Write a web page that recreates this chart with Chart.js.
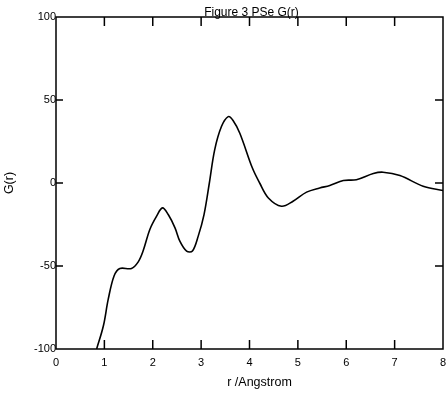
<!DOCTYPE html>
<html>
<head>
<meta charset="utf-8">
<script src="https://cdn.jsdelivr.net/npm/chart.js@4"></script>
<style>
html,body{margin:0;padding:0;background:#fff;}
#wrap{width:448px;height:393px;position:relative;}
</style>
</head>
<body>
<div id="wrap"><canvas id="c" width="448" height="393"></canvas></div>
<script>
const chartTitle = "Figure 3 PSe G(r)";
const xAxisTitle = "r /Angstrom";
const yAxisTitle = "G(r)";
const rValues = [0.84, 0.98, 1.08, 1.2, 1.32, 1.56, 1.70, 1.80, 1.94, 2.08, 2.2, 2.32, 2.46, 2.56, 2.70, 2.82, 2.94, 3.06, 3.17, 3.28, 3.42, 3.56, 3.66, 3.80, 4.06, 4.21, 4.39, 4.66, 4.90, 5.18, 5.45, 5.66, 5.94, 6.21, 6.56, 6.76, 7.11, 7.59, 8.0];
const gValues = [-100, -86, -70, -56, -51.5, -51.5, -47.5, -41, -28, -20, -15, -19, -27, -35, -41, -41, -32, -19, 0, 20, 34, 40, 37.7, 30, 9, 0, -9, -14, -11, -5.5, -3, -1.5, 1.5, 2, 5.7, 6.5, 4.5, -2, -4.5];
const xTicks = [0, 1, 2, 3, 4, 5, 6, 7, 8];
const yTicks = [-100, -50, 0, 50, 100];

const FONT = "'Liberation Sans', Arial, sans-serif";

const framePlugin = {
  id: 'frame',
  afterDatasetsDraw(chart) {
    const {ctx, chartArea: a, scales: {x, y}} = chart;
    ctx.save();
    ctx.strokeStyle = '#000';
    ctx.lineWidth = 1.5;
    ctx.strokeRect(a.left, a.top, a.right - a.left, a.bottom - a.top);
    ctx.beginPath();
    xTicks.forEach(v => {
      if (v === xTicks[0] || v === xTicks[xTicks.length - 1]) return;
      const px = x.getPixelForValue(v);
      ctx.moveTo(px, a.bottom); ctx.lineTo(px, a.bottom - 9);
      ctx.moveTo(px, a.top); ctx.lineTo(px, a.top + 9);
    });
    yTicks.forEach(v => {
      if (v === yTicks[0] || v === yTicks[yTicks.length - 1]) return;
      const py = y.getPixelForValue(v);
      ctx.moveTo(a.left, py); ctx.lineTo(a.left + 7, py);
      ctx.moveTo(a.right, py); ctx.lineTo(a.right - 8, py);
    });
    ctx.stroke();
    ctx.fillStyle = '#000';
    ctx.font = '12px ' + FONT;
    ctx.textAlign = 'center';
    ctx.textBaseline = 'alphabetic';
    ctx.fillText(chartTitle, (a.left + a.right) / 2 + 2, 16);
    ctx.font = '12.5px ' + FONT;
    ctx.textBaseline = 'middle';
    ctx.fillText(xAxisTitle, (a.left + a.right) / 2 + 10, 383);
    ctx.restore();
  }
};

const bgPlugin = {
  id: 'bg',
  beforeDraw(chart) {
    const ctx = chart.ctx;
    ctx.save();
    ctx.fillStyle = '#fff';
    ctx.fillRect(0, 0, chart.width, chart.height);
    ctx.restore();
  }
};

new Chart(document.getElementById('c'), {
  type: 'line',
  data: {
    datasets: [{
      data: rValues.map((r, i) => ({x: r, y: gValues[i]})),
      borderColor: '#000',
      borderWidth: 1.6,
      pointRadius: 0,
      tension: 0.35,
      fill: false
    }]
  },
  options: {
    responsive: false,
    animation: false,
    devicePixelRatio: 1,
    layout: {padding: {top: 17, right: 5, left: 0, bottom: 0}},
    plugins: {legend: {display: false}, title: {display: false}, tooltip: {enabled: false}},
    scales: {
      x: {
        type: 'linear', min: 0, max: 8,
        afterFit(s) { s.height = 44; s.paddingLeft = 0; s.paddingRight = 0; },
        afterBuildTicks(s) { s.ticks = xTicks.map(v => ({value: v})); },
        grid: {display: false, drawTicks: false},
        border: {display: false},
        ticks: {padding: 7, color: '#000', font: {family: FONT, size: 11}, maxRotation: 0},
        title: {display: false}
      },
      y: {
        type: 'linear', min: -100, max: 100,
        afterFit(s) { s.width = 56; s.paddingTop = 0; s.paddingBottom = 0; },
        afterBuildTicks(s) { s.ticks = yTicks.map(v => ({value: v})); },
        grid: {display: false, drawTicks: false},
        border: {display: false},
        ticks: {padding: 0, color: '#000', font: {family: FONT, size: 11}},
        title: {display: true, text: yAxisTitle, color: '#000', font: {family: FONT, size: 12.5}, padding: {top: 2, bottom: 0}}
      }
    }
  },
  plugins: [bgPlugin, framePlugin]
});
</script>
</body>
</html>
